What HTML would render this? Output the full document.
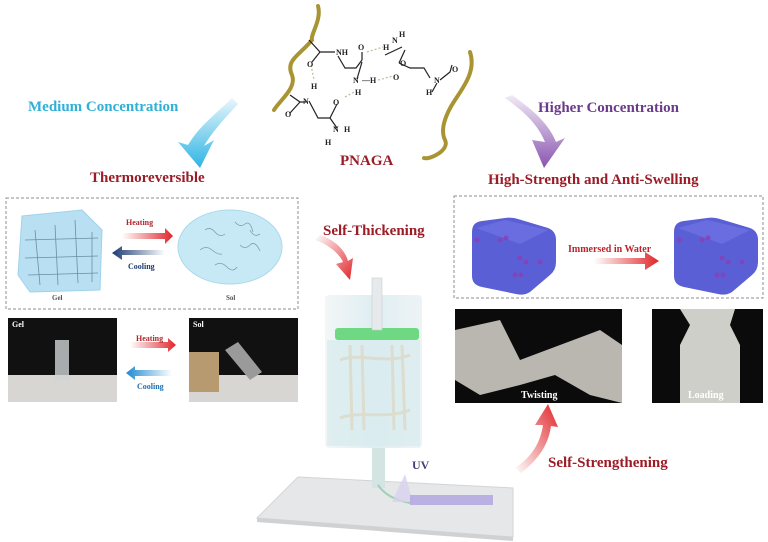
<!DOCTYPE html>
<html><head><meta charset="utf-8"><style>
html,body{margin:0;padding:0;background:#fff;}
body{width:768px;height:542px;position:relative;overflow:hidden;font-family:"Liberation Serif",serif;}
.t{position:absolute;font-weight:bold;white-space:nowrap;}
</style></head><body>
<svg width="768" height="542" style="position:absolute;left:0;top:0" xmlns="http://www.w3.org/2000/svg">
<defs>
<linearGradient id="cy" x1="0" y1="0" x2="0" y2="1"><stop offset="0" stop-color="#e8f6fb"/><stop offset="1" stop-color="#2eb4e4"/></linearGradient>
<linearGradient id="pu" x1="0" y1="0" x2="0" y2="1"><stop offset="0" stop-color="#f1eaf6"/><stop offset="1" stop-color="#8a55b0"/></linearGradient>
<linearGradient id="rd" x1="0" y1="0" x2="1" y2="0"><stop offset="0" stop-color="#fff"/><stop offset="1" stop-color="#e0262b"/></linearGradient>
<linearGradient id="bl" x1="1" y1="0" x2="0" y2="0"><stop offset="0" stop-color="#fff"/><stop offset="1" stop-color="#1c3a73"/></linearGradient>
<linearGradient id="cb" x1="1" y1="0" x2="0" y2="0"><stop offset="0" stop-color="#fff"/><stop offset="1" stop-color="#1f8ad0"/></linearGradient>
<linearGradient id="rv" x1="0" y1="0" x2="1" y2="1"><stop offset="0" stop-color="#fff"/><stop offset="1" stop-color="#e0262b"/></linearGradient>
<linearGradient id="ru" x1="0" y1="1" x2="1" y2="0"><stop offset="0" stop-color="#fff"/><stop offset="1" stop-color="#e0262b"/></linearGradient>
<linearGradient id="cyl" x1="0" y1="0" x2="1" y2="0"><stop offset="0" stop-color="#f3f6f7"/><stop offset=".5" stop-color="#dfeef2"/><stop offset="1" stop-color="#eef3f5"/></linearGradient>
</defs>
<!-- PNAGA molecule -->
<g fill="none" stroke="#a99433" stroke-width="4" stroke-linecap="round">
<path d="M318 6 C322 20 310 35 312 40 C300 55 285 60 292 75 C297 88 280 100 274 110"/>
<path d="M470 52 C476 70 465 85 455 100 C445 115 440 130 445 140 C450 150 430 160 424 158"/>
</g>
<g fill="none" stroke="#222" stroke-width="1.2">
<path d="M309 40 L320 52 L335 52"/><path d="M320 52 L312 62"/>
<path d="M338 56 L345 68 L356 68 L362 60"/><path d="M362 60 L362 52"/><path d="M362 62 L357 79"/>
<path d="M290 95 L300 102 L306 102"/><path d="M300 102 L290 113"/>
<path d="M309 101 L318 118 L330 118 L337 104"/><path d="M330 118 L337 128"/>
<path d="M385 55 L402 47"/><path d="M399 63 L410 68 L424 68 L430 78"/><path d="M399 63 L405 50"/>
<path d="M440 80 L450 72 L452 65"/><path d="M437 83 L432 92"/>
</g>
<g fill="none" stroke="#b9c59a" stroke-width="1.3" stroke-dasharray="2 2">
<path d="M311 65 L314 80"/><path d="M367 52 L383 47"/><path d="M378 80 L393 76"/><path d="M345 97 L356 91"/>
</g>
<g font-family="Liberation Serif" font-weight="bold" font-size="8" fill="#222">
<text x="336" y="55">NH</text><text x="358" y="50">O</text><text x="383" y="50">H</text><text x="392" y="43">N</text><text x="399" y="37">H</text>
<text x="307" y="67">O</text><text x="311" y="89">H</text><text x="303" y="104">N</text><text x="285" y="117">O</text>
<text x="353" y="83">N</text><text x="362" y="83">—H</text><text x="355" y="95">H</text><text x="393" y="80">O</text>
<text x="434" y="83">N</text><text x="426" y="95">H</text><text x="452" y="72">O</text><text x="400" y="66">O</text>
<text x="333" y="105">O</text><text x="333" y="132">N</text><text x="344" y="132">H</text><text x="325" y="145">H</text>
</g>
<!-- big curved arrows -->
<path d="M232 98 C215 115 200 125 188 145 L178 142 L200 168 L214 140 L204 146 C212 132 225 118 238 104 Z" fill="url(#cy)"/>
<path d="M505 98 C525 112 538 125 545 142 L532 140 L544 168 L565 138 L556 142 C548 122 530 108 512 95 Z" fill="url(#pu)"/>
<!-- left dashed box -->
<rect x="6" y="198" width="292" height="111" fill="none" stroke="#8a8f95" stroke-dasharray="3 2"/>
<path d="M22 216 L82 210 L102 230 L100 290 L30 292 L18 275 Z" fill="#b8e0f2" stroke="#9fd2ea"/>
<g stroke="#6b8ea0" stroke-width="0.8" fill="none">
<path d="M35 230 L40 285"/><path d="M55 225 L58 285"/><path d="M75 220 L78 283"/><path d="M92 232 L92 282"/>
<path d="M25 240 L98 238"/><path d="M25 258 L98 256"/><path d="M28 275 L98 273"/>
</g>
<ellipse cx="230" cy="247" rx="52" ry="37" fill="#c6e9f5" stroke="#aad9ed"/>
<g stroke="#7aa0b0" stroke-width="0.8" fill="none">
<path d="M205 230 q5 -4 10 2 t10 2"/><path d="M235 222 q5 6 10 2 t8 8"/><path d="M200 250 q6 -5 12 0 t10 4"/><path d="M240 245 q5 5 10 0 t10 6"/><path d="M215 265 q6 -4 12 2 t10 0"/><path d="M250 230 q4 8 10 4"/>
</g>
<polygon points="122,233 165,233 165,228 173,236 165,244 165,239 122,239" fill="url(#rd)"/>
<polygon points="165,250 122,250 122,246 112,253 122,260 122,255 165,255" fill="url(#bl)"/>
<!-- photos left -->
<rect x="8" y="318" width="109" height="84" fill="#111"/><rect x="8" y="375" width="109" height="27" fill="#d8d6d2"/>
<rect x="55" y="340" width="14" height="40" fill="#cfd3d4" opacity=".8"/>
<rect x="189" y="318" width="109" height="84" fill="#111"/><rect x="189" y="375" width="109" height="27" fill="#d8d6d2"/>
<rect x="189" y="352" width="30" height="40" fill="#b89a70"/>
<polygon points="225,350 238,342 262,372 250,380" fill="#9a9a9a"/>
<polygon points="130,342 168,342 168,338 176,345 168,352 168,348 130,348" fill="url(#rd)"/>
<polygon points="172,370 135,370 135,366 126,373 135,380 135,376 172,376" fill="url(#cb)"/>
<!-- Self thickening arrow -->
<path d="M315 240 C330 245 340 255 343 262 L336 264 L350 280 L353 258 L348 261 C345 250 335 240 320 235 Z" fill="url(#rv)"/>
<!-- plate -->
<polygon points="298,477 513,488 513,537 257,518" fill="#e6e7e8" stroke="#d2d4d6"/>
<polygon points="257,518 513,537 513,541 257,522" fill="#cfd1d3"/>
<!-- cylinder -->
<rect x="325" y="295" width="97" height="153" rx="4" fill="url(#cyl)"/>
<rect x="327" y="340" width="93" height="106" fill="#d7ebee" opacity=".7"/>
<rect x="335" y="328" width="84" height="12" rx="3" fill="#6fd883"/>
<rect x="372" y="278" width="10" height="52" fill="#e6eaec" stroke="#c7ccd0" stroke-width=".6"/>
<g stroke="#dcdccf" stroke-width="3" fill="none">
<path d="M350 345 L352 430"/><path d="M362 345 L364 430"/><path d="M392 345 L394 430"/><path d="M402 345 L405 430"/>
<path d="M340 360 C360 352 385 365 410 355"/><path d="M340 418 C360 410 385 420 410 410"/>
</g>
<rect x="372" y="448" width="13" height="40" fill="#d4e4e3"/>
<path d="M378 485 C385 495 395 500 410 503" stroke="#9ed0b5" stroke-width="2" fill="none"/>
<polygon points="405,474 413,502 392,502" fill="#d8d2ee" opacity=".8"/>
<rect x="410" y="495" width="83" height="10" fill="#b3a6e0" opacity=".85"/>
<!-- right dashed box -->
<rect x="454" y="196" width="309" height="102" fill="none" stroke="#8a8f95" stroke-dasharray="3 2"/>
<g>
<path d="M472 232 Q472 222 482 221 L505 218 Q512 217 518 219 L548 228 Q556 231 556 240 L556 262 Q556 270 550 275 L530 292 Q524 296 516 294 L482 287 Q472 285 472 276 Z" fill="#5a5fd6"/>
<path d="M476 228 L505 220 L548 230 L520 244 Z" fill="#6f74e3" opacity=".7"/>
</g>
<g transform="translate(202,0)">
<path d="M472 232 Q472 222 482 221 L505 218 Q512 217 518 219 L548 228 Q556 231 556 240 L556 262 Q556 270 550 275 L530 292 Q524 296 516 294 L482 287 Q472 285 472 276 Z" fill="#5a5fd6"/>
<path d="M476 228 L505 220 L548 230 L520 244 Z" fill="#6f74e3" opacity=".7"/>
</g>
<g fill="#8a3fb5" opacity=".8">
<circle cx="500" cy="240" r="2.5"/><circle cx="506" cy="238" r="2.5"/><circle cx="520" cy="258" r="2.5"/><circle cx="526" cy="262" r="2.5"/><circle cx="515" cy="275" r="2.5"/><circle cx="521" cy="275" r="2.5"/><circle cx="540" cy="262" r="2.5"/><circle cx="477" cy="240" r="2.5"/>
<circle cx="702" cy="240" r="2.5"/><circle cx="708" cy="238" r="2.5"/><circle cx="722" cy="258" r="2.5"/><circle cx="728" cy="262" r="2.5"/><circle cx="717" cy="275" r="2.5"/><circle cx="723" cy="275" r="2.5"/><circle cx="742" cy="262" r="2.5"/><circle cx="679" cy="240" r="2.5"/>
</g>
<polygon points="594,258 645,258 645,252 659,261 645,270 645,264 594,264" fill="url(#rd)"/>
<!-- right photos -->
<rect x="455" y="309" width="167" height="94" fill="#0b0b0b"/>
<path d="M455 330 L500 320 L520 360 L560 345 L600 330 L622 345 L622 403 L590 395 L555 375 L520 385 L480 395 L455 380 Z" fill="#d9d6cf" opacity=".85"/>
<rect x="652" y="309" width="111" height="94" fill="#0b0b0b"/>
<path d="M680 309 L735 309 L730 325 L740 345 L740 403 L680 403 L680 345 L690 325 Z" fill="#cfcfc9"/>
<!-- self strengthening arrow -->
<path d="M515 468 C530 458 540 445 543 425 L535 425 L548 404 L558 427 L551 426 C548 448 535 462 521 473 Z" fill="url(#ru)"/>
</svg>
<div class="t" style="left:28px;top:99px;font-size:15px;color:#2fb0d6">Medium Concentration</div>
<div class="t" style="left:538px;top:100px;font-size:15px;color:#6a3b8a">Higher Concentration</div>
<div class="t" style="left:90px;top:170px;font-size:15px;color:#9b1c26">Thermoreversible</div>
<div class="t" style="left:488px;top:172px;font-size:15px;color:#9b1c26">High-Strength and Anti-Swelling</div>
<div class="t" style="left:340px;top:153px;font-size:15px;color:#9b1c26">PNAGA</div>
<div class="t" style="left:323px;top:223px;font-size:15px;color:#9b1c26">Self-Thickening</div>
<div class="t" style="left:548px;top:455px;font-size:15px;color:#9b1c26">Self-Strengthening</div>
<div class="t" style="left:412px;top:458px;font-size:12px;color:#4a3a7a">UV</div>
<div class="t" style="left:126px;top:218px;font-size:8px;color:#b0242b">Heating</div>
<div class="t" style="left:128px;top:262px;font-size:8px;color:#1c3a73">Cooling</div>
<div class="t" style="left:52px;top:294px;font-size:7px;color:#555">Gel</div>
<div class="t" style="left:226px;top:294px;font-size:7px;color:#555">Sol</div>
<div class="t" style="left:12px;top:320px;font-size:8px;color:#fff">Gel</div>
<div class="t" style="left:193px;top:320px;font-size:8px;color:#fff">Sol</div>
<div class="t" style="left:136px;top:334px;font-size:8px;color:#b0242b">Heating</div>
<div class="t" style="left:137px;top:382px;font-size:8px;color:#1f6fb0">Cooling</div>
<div class="t" style="left:568px;top:244px;font-size:10px;color:#c0222b">Immersed in Water</div>
<div class="t" style="left:521px;top:390px;font-size:10px;color:#fff">Twisting</div>
<div class="t" style="left:688px;top:390px;font-size:10px;color:#fff">Loading</div>
</body></html>
